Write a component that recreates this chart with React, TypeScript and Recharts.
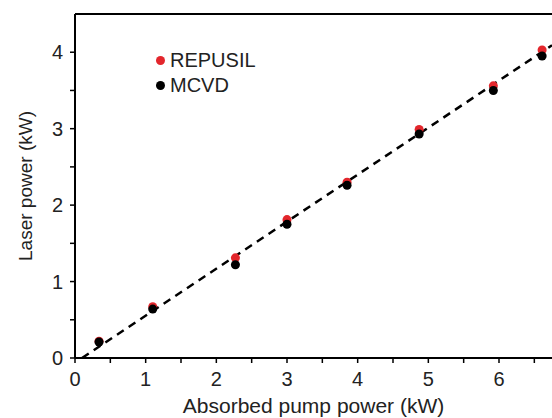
import { Label, ReferenceLine, Scatter, ScatterChart, XAxis, YAxis } from 'recharts';

const pumpPower = [0.34, 1.1, 2.27, 3.0, 3.85, 4.87, 5.92, 6.61];
const repusilPower = [0.22, 0.67, 1.31, 1.81, 2.3, 2.99, 3.56, 4.03];
const mcvdPower = [0.21, 0.64, 1.22, 1.75, 2.26, 2.93, 3.5, 3.95];
const fitX = [0.1, 6.75];
const fitY = [0, 4.09];
const xTicks = [0, 0.5, 1, 1.5, 2, 2.5, 3, 3.5, 4, 4.5, 5, 5.5, 6, 6.5];
const yTicks = [0, 0.5, 1, 1.5, 2, 2.5, 3, 3.5, 4];
const seriesNames = ['REPUSIL', 'MCVD'];
const seriesColors = ['#e3262c', '#000'];

const repusil = pumpPower.map((x, i) => ({ x, y: repusilPower[i] }));
const mcvd = pumpPower.map((x, i) => ({ x, y: mcvdPower[i] }));
const fit = fitX.map((x, i) => ({ x, y: fitY[i] }));

const font = '"Liberation Sans", Arial, sans-serif';
const textColor = '#222';

function XTick({ x, y, payload }) {
	if (!Number.isInteger(payload.value)) return null;
	return (
		<text x={x} y={y} dy="0.71em" textAnchor="middle" fontSize={20} fill={textColor} fontFamily={font}>
			{payload.value}
		</text>
	);
}

function YTick({ x, y, payload }) {
	if (!Number.isInteger(payload.value)) return null;
	return (
		<text x={x} y={y} dy="0.36em" textAnchor="end" fontSize={20} fill={textColor} fontFamily={font}>
			{payload.value}
		</text>
	);
}

// legend drawn as an overlay so it doesn't eat chart space
function LegendBox() {
	return (
		<div
			style={{
				position: 'absolute',
				left: 156,
				top: 48,
				fontFamily: font,
				fontSize: 20,
				color: textColor,
				lineHeight: '25px',
			}}
		>
			{seriesNames.map((name, i) => (
				<div key={name} style={{ display: 'flex', alignItems: 'center' }}>
					<span style={{ width: 9, height: 9, borderRadius: '50%', background: seriesColors[i], marginRight: 5 }} />
					{name}
				</div>
			))}
		</div>
	);
}

export default function App() {
	return (
		<div style={{ position: 'absolute', left: 0, top: 0, width: 552, height: 418, background: '#fff' }}>
			<ScatterChart width={552} height={418} margin={{ top: 14, right: 0, left: 0, bottom: 0 }}>
				<XAxis
					type="number"
					dataKey="x"
					domain={[0, 6.75]}
					ticks={xTicks}
					tick={<XTick />}
					tickSize={5}
					tickMargin={9}
					height={60}
					allowDataOverflow
					axisLine={{ stroke: '#000', strokeWidth: 2 }}
					tickLine={{ stroke: '#000', strokeWidth: 1.5 }}
				>
					<Label value="Absorbed pump power (kW)" position="insideBottom" offset={5} fontSize={21} fill={textColor} fontFamily={font} />
				</XAxis>
				<YAxis
					type="number"
					dataKey="y"
					domain={[0, 4.5]}
					ticks={yTicks}
					tick={<YTick />}
					tickSize={5}
					tickMargin={7}
					width={75}
					allowDataOverflow
					axisLine={{ stroke: '#000', strokeWidth: 2 }}
					tickLine={{ stroke: '#000', strokeWidth: 1.5 }}
				>
					<Label
						value="Laser power (kW)"
						angle={-90}
						position="insideLeft"
						offset={25}
						fontSize={19}
						fill={textColor}
						fontFamily={font}
						style={{ textAnchor: 'middle' }}
					/>
				</YAxis>
				<ReferenceLine y={4.5} stroke="#000" strokeWidth={2} ifOverflow="visible" />
				<Scatter
					name="fit"
					data={fit}
					legendType="none"
					line={{ stroke: '#000', strokeWidth: 2.5, strokeDasharray: '8 6' }}
					shape={() => <g />}
					isAnimationActive={false}
				/>
				<Scatter name={seriesNames[0]} data={repusil} fill={seriesColors[0]} isAnimationActive={false} />
				<Scatter name={seriesNames[1]} data={mcvd} fill={seriesColors[1]} isAnimationActive={false} />
			</ScatterChart>
			<LegendBox />
		</div>
	);
}
